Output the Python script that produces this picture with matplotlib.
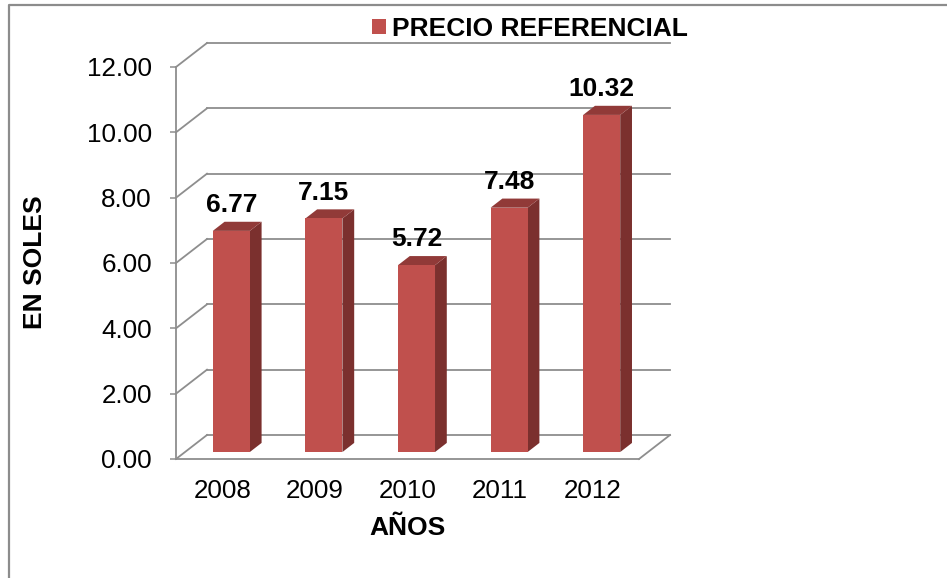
import matplotlib
matplotlib.use('Agg')
import matplotlib.pyplot as plt
from matplotlib.patches import Polygon, Patch
from matplotlib.lines import Line2D

# ---- data ----
years = ['2008', '2009', '2010', '2011', '2012']
precio = [6.77, 7.15, 5.72, 7.48, 10.32]
yticks = [0, 2, 4, 6, 8, 10, 12]
series_name = 'PRECIO REFERENCIAL'
xlabel = 'AÑOS'
ylabel = 'EN SOLES'

W, H = 947, 578
plt.rcParams['font.family'] = ['Liberation Sans', 'DejaVu Sans']
fig = plt.figure(figsize=(W / 100, H / 100), dpi=100)
fig.patch.set_facecolor('white')

ax = fig.add_axes([176 / W, 1 - 459 / H, 463 / W, 392 / H])
ax.set_xlim(-0.5, len(years) - 0.5)
ax.set_ylim(0, 12)
ax.patch.set_alpha(0)

GRID = '#8E8E8E'
FRONT = '#C0504D'
TOP = '#913A38'
SIDE = '#7B302E'
BOLD_SIZE = 19
TICK_SIZE = 18.7

# oblique depth offsets in data units (depth d in 0..1)
DX = 31 / (463 / len(years))
DY = 24 / (392 / 12)


def proj(x, y, d):
    return (x + d * DX, y + d * DY)


x_lo, x_hi = -0.5, len(years) - 0.5
# back wall gridlines and left wall diagonals
for t in yticks:
    p0 = proj(x_lo, t, 1)
    p1 = proj(x_hi, t, 1)
    ax.plot([p0[0], p1[0]], [p0[1], p1[1]], color=GRID, lw=1.3, clip_on=False, zorder=1)
    q0 = proj(x_lo, t, 0)
    ax.plot([q0[0], p0[0]], [q0[1], p0[1]], color=GRID, lw=1.3, clip_on=False, zorder=1)
# floor right edge
f0 = proj(x_hi, 0, 0)
f1 = proj(x_hi, 0, 1)
ax.plot([f0[0], f1[0]], [f0[1], f1[1]], color=GRID, lw=1.3, clip_on=False, zorder=1)

# bars
d0, d1 = 0.29, 0.67
half = 0.2
for i, v in enumerate(precio):
    x0, x1 = i - half, i + half
    front = [proj(x0, 0, d0), proj(x1, 0, d0), proj(x1, v, d0), proj(x0, v, d0)]
    side = [proj(x1, 0, d0), proj(x1, 0, d1), proj(x1, v, d1), proj(x1, v, d0)]
    top = [proj(x0, v, d0), proj(x1, v, d0), proj(x1, v, d1), proj(x0, v, d1)]
    for poly, c in ((side, SIDE), (top, TOP), (front, FRONT)):
        ax.add_patch(Polygon(poly, closed=True, facecolor=c, edgecolor='none',
                             clip_on=False, zorder=3))
    lx, ly = proj(i, v, d0)
    ax.annotate(f'{v:.2f}', xy=(lx, ly), xytext=(0, 13.5), textcoords='offset points',
                ha='center', va='baseline', fontsize=BOLD_SIZE, fontweight='bold',
                color='black', zorder=5, annotation_clip=False)

# axes styling
for s in ('top', 'right'):
    ax.spines[s].set_visible(False)
for s in ('left', 'bottom'):
    ax.spines[s].set_color(GRID)
    ax.spines[s].set_linewidth(1.3)
ax.set_yticks(yticks)
ax.set_yticklabels([f'{t:.2f}' for t in yticks])
ax.set_xticks(range(len(years)))
ax.set_xticklabels(years)
ax.tick_params(axis='y', length=4.3, width=1.1, color=GRID, pad=13, labelsize=TICK_SIZE)
ax.tick_params(axis='x', length=0, pad=14.5, labelsize=TICK_SIZE)

fig.text(35 / W, 1 - 262 / H, ylabel, rotation=90, ha='center', va='center',
         fontsize=BOLD_SIZE, fontweight='bold')
fig.text(407 / W, 1 - 528 / H, xlabel, ha='center', va='center',
         fontsize=BOLD_SIZE, fontweight='bold')

# legend
fig.legend(handles=[Patch(facecolor=FRONT, edgecolor='none')], labels=[series_name],
           loc='center left', bbox_to_anchor=(372 / W, 1 - 29 / H),
           handlelength=0.53, handleheight=0.53, handletextpad=0.23,
           borderpad=0, borderaxespad=0, frameon=False,
           prop={'size': BOLD_SIZE, 'weight': 'bold'})

# outer chart border (left and top)
fig.add_artist(Line2D([9 / W, 9 / W, 1], [0, 1 - 5 / H, 1 - 5 / H],
                      transform=fig.transFigure, color='#8C8C8C', lw=1.6))

fig.savefig('out.png', dpi=100)
